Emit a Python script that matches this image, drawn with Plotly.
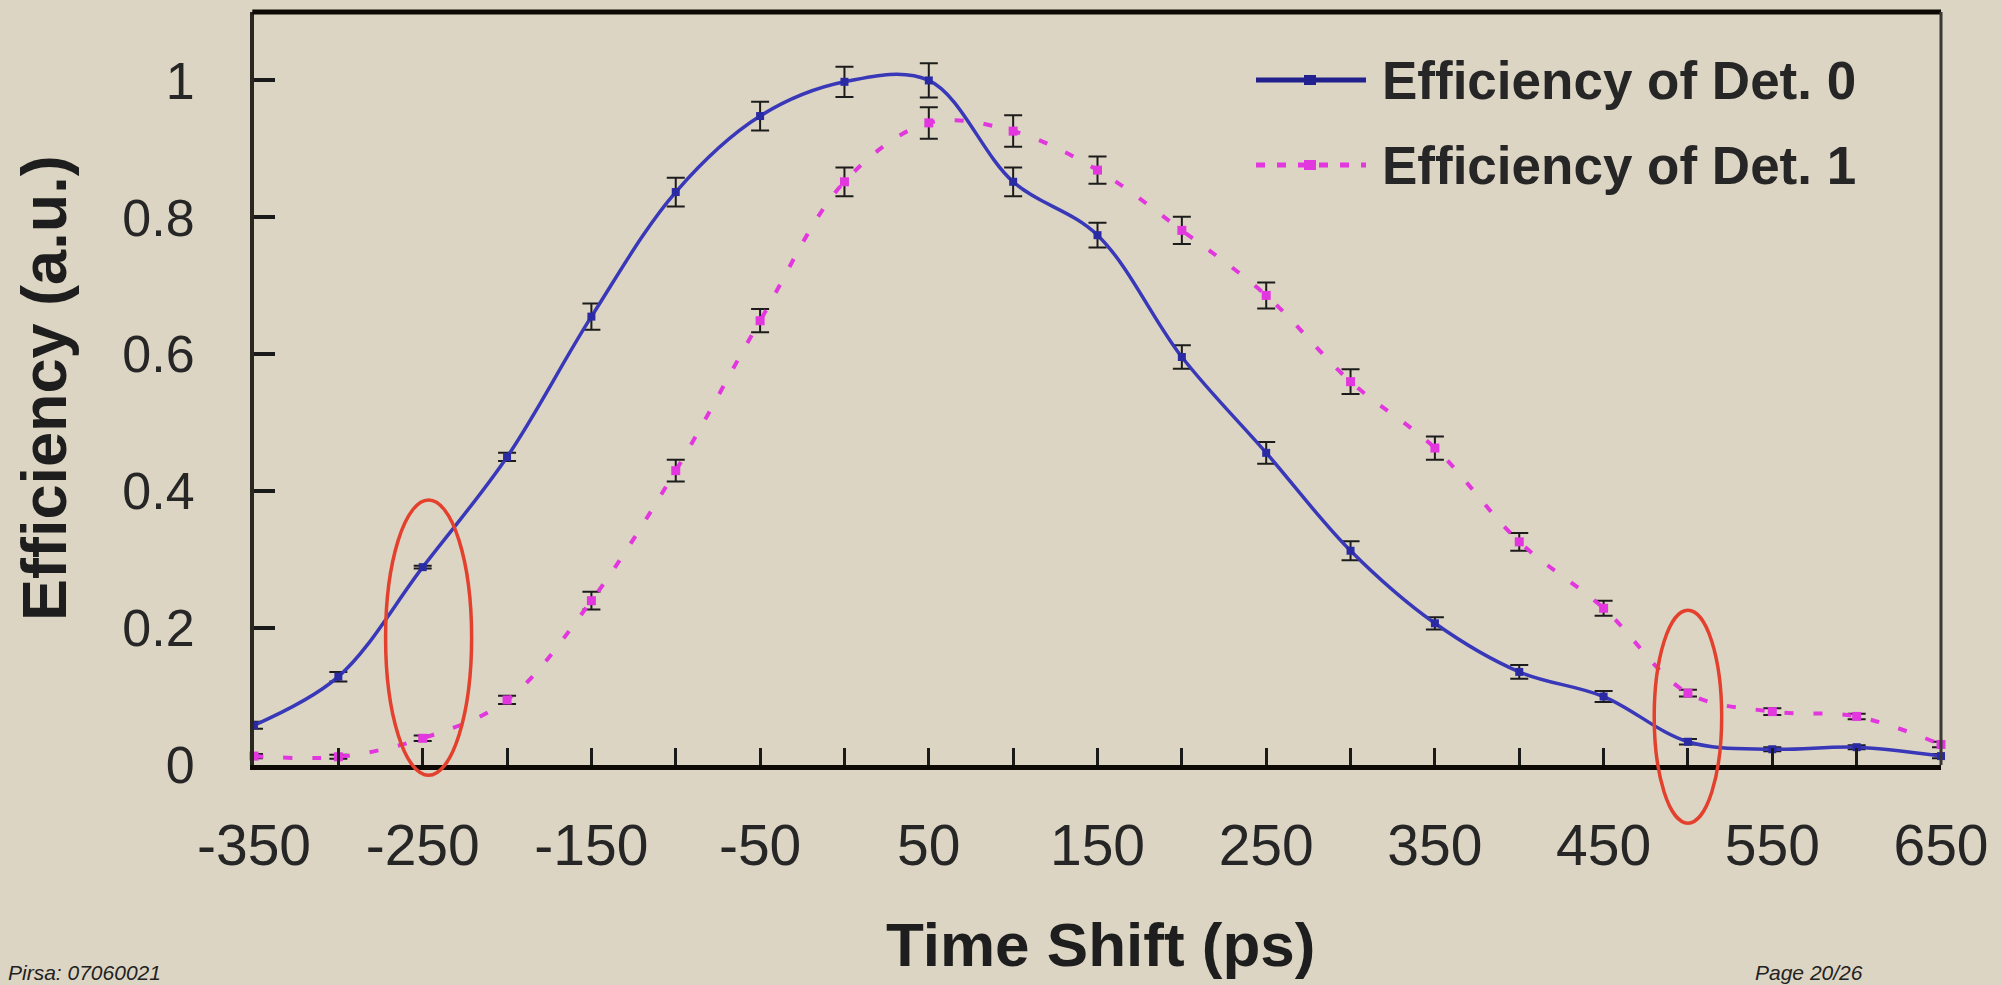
import plotly.graph_objects as go

# ---------------- data ----------------
time_ps = [-350, -300, -250, -200, -150, -100, -50, 0, 50, 100, 150,
           200, 250, 300, 350, 400, 450, 500, 550, 600, 650]
det0 = [0.058, 0.129, 0.289, 0.450, 0.655, 0.837, 0.948, 0.998, 1.000, 0.852, 0.774,
        0.596, 0.456, 0.313, 0.207, 0.136, 0.100, 0.034, 0.023, 0.026, 0.013]
det0_err = [0.005, 0.007, 0.002, 0.006, 0.019, 0.021, 0.021, 0.022, 0.025, 0.021, 0.018,
            0.017, 0.016, 0.014, 0.009, 0.010, 0.008, 0.004, 0.003, 0.003, 0.003]
det1 = [0.013, 0.012, 0.039, 0.095, 0.240, 0.430, 0.649, 0.852, 0.938, 0.926, 0.869,
        0.781, 0.686, 0.560, 0.463, 0.326, 0.229, 0.105, 0.078, 0.071, 0.030]
det1_err = [0.003, 0.003, 0.004, 0.006, 0.013, 0.016, 0.017, 0.021, 0.023, 0.023, 0.020,
            0.020, 0.019, 0.018, 0.017, 0.013, 0.011, 0.005, 0.005, 0.004, 0.004]

series_names = ["Efficiency of Det. 0", "Efficiency of Det. 1"]
x_tick_vals = [-350, -250, -150, -50, 50, 150, 250, 350, 450, 550, 650]
x_tick_text = [str(v) for v in x_tick_vals]
y_tick_vals = [0, 0.2, 0.4, 0.6, 0.8, 1.0]
y_tick_text = ["0", "0.2", "0.4", "0.6", "0.8", "1"]
x_title = "Time Shift (ps)"
y_title = "Efficiency (a.u.)"
footer_left = "Pirsa: 07060021"
footer_right = "Page 20/26"

# highlighted regions (data units): x0, x1, y0, y1
highlights = [(-272, -221, -0.015, 0.387), (480, 520, -0.085, 0.226)]

X_RANGE = [-350, 650]
Y_RANGE = [0, 1.1]

# ---------------- styling / geometry ----------------
W, H = 2001, 985
ML, MR, MT, MB = 254, 60, 12, 220
PW, PH = W - ML - MR, H - MT - MB

BG = "rgb(221,213,195)"
FONT = "Liberation Sans, Arial, sans-serif"
BLUE = "#3838B8"
BLUE_DARK = "#22228E"
MAG = "#E236DE"
RED = "#E4402E"
TXT = "#262626"


def px_x(px):
    return (px - ML) / PW


def px_y(py):
    return (H - MB - py) / PH


def dx(v):
    return (v - X_RANGE[0]) / (X_RANGE[1] - X_RANGE[0])


def dy(v):
    return (v - Y_RANGE[0]) / (Y_RANGE[1] - Y_RANGE[0])


fig = go.Figure()

fig.add_trace(go.Scatter(
    x=time_ps, y=det1, mode="lines+markers", name=series_names[1],
    line=dict(color=MAG, width=4, dash="9px,20px", shape="spline", smoothing=1.0),
    marker=dict(symbol="square", size=9, color=MAG),
    error_y=dict(type="data", array=det1_err, color="#1c1c1c", thickness=2, width=9),
    cliponaxis=False, showlegend=False,
))
fig.add_trace(go.Scatter(
    x=time_ps, y=det0, mode="lines+markers", name=series_names[0],
    line=dict(color=BLUE, width=3.5, shape="spline", smoothing=1.0),
    marker=dict(symbol="square", size=8, color="#2A2AA4"),
    error_y=dict(type="data", array=det0_err, color="#1c1c1c", thickness=2, width=9),
    cliponaxis=False, showlegend=False,
))

shapes = []
# top and right frame lines
shapes.append(dict(type="line", xref="paper", yref="paper", x0=-0.001, x1=1.0, y0=1.0, y1=1.0,
                   line=dict(color="#0d0a05", width=5)))
shapes.append(dict(type="line", xref="paper", yref="paper", x0=1.0, x1=1.0, y0=0.0, y1=1.0,
                   line=dict(color="#3a3834", width=3)))
# red ellipses
for (x0, x1, y0, y1) in highlights:
    shapes.append(dict(type="circle", xref="paper", yref="paper",
                       x0=dx(x0), x1=dx(x1), y0=dy(y0), y1=dy(y1),
                       line=dict(color=RED, width=3.5)))

# manual legend
leg_rows = [(80, BLUE_DARK, "solid", 5, series_names[0]), (165, MAG, "9px,12px", 5, series_names[1])]
annotations = []
for (ypx, col, dash, w, name) in leg_rows:
    shapes.append(dict(type="line", xref="paper", yref="paper",
                       x0=px_x(1256), x1=px_x(1366), y0=px_y(ypx), y1=px_y(ypx),
                       line=dict(color=col, width=w, dash=dash)))
    shapes.append(dict(type="rect", xref="paper", yref="paper",
                       x0=px_x(1304), x1=px_x(1316), y0=px_y(ypx - 5), y1=px_y(ypx + 5),
                       fillcolor=col, line=dict(width=0)))
    annotations.append(dict(xref="paper", yref="paper", x=px_x(1380), y=px_y(ypx),
                            xanchor="left", yanchor="middle", showarrow=False, text=name,
                            font=dict(family=FONT, size=53, color=TXT, weight="bold")))

# axis titles
annotations.append(dict(xref="paper", yref="paper", x=px_x(1100), y=px_y(944),
                        xanchor="center", yanchor="middle", showarrow=False, text=x_title,
                        font=dict(family=FONT, size=62, color="#1e1e1e", weight="bold")))
annotations.append(dict(xref="paper", yref="paper", x=px_x(44), y=px_y(388),
                        xanchor="center", yanchor="middle", showarrow=False, text=y_title,
                        textangle=-90,
                        font=dict(family=FONT, size=63, color="#1e1e1e", weight="bold")))
# footers
annotations.append(dict(xref="paper", yref="paper", x=px_x(6), y=px_y(972),
                        xanchor="left", yanchor="middle", showarrow=False, text=footer_left,
                        font=dict(family=FONT, size=21, color="#222222", style="italic")))
annotations.append(dict(xref="paper", yref="paper", x=px_x(1865), y=px_y(972),
                        xanchor="right", yanchor="middle", showarrow=False, text=footer_right,
                        font=dict(family=FONT, size=21, color="#222222", style="italic")))

fig.update_layout(
    width=W, height=H,
    margin=dict(l=ML, r=MR, t=MT, b=MB, pad=0),
    paper_bgcolor=BG, plot_bgcolor=BG,
    showlegend=False,
    shapes=shapes, annotations=annotations,
    xaxis=dict(
        range=X_RANGE, showgrid=False, zeroline=False,
        showline=True, linecolor="#0d0a05", linewidth=5,
        tickmode="array", tickvals=x_tick_vals, ticktext=x_tick_text,
        ticks="inside", ticklen=17, tickwidth=3, tickcolor="#1a1a1a",
        minor=dict(dtick=50, tick0=-350, ticks="inside", ticklen=17, tickwidth=3, tickcolor="#1a1a1a"),
        tickfont=dict(family=FONT, size=57, color=TXT),
        ticklabelstandoff=27,
    ),
    yaxis=dict(
        range=Y_RANGE, showgrid=False, zeroline=False,
        showline=True, linecolor="#2a2620", linewidth=4,
        tickmode="array", tickvals=y_tick_vals, ticktext=y_tick_text,
        ticks="inside", ticklen=21, tickwidth=4, tickcolor="#1a1a1a",
        tickfont=dict(family=FONT, size=52, color=TXT),
        ticklabelstandoff=45,
    ),
)

fig.write_html(
    "out.html",
    config={"displayModeBar": False},
    post_script="document.body.style.margin='0px';document.body.style.overflow='hidden';",
)
